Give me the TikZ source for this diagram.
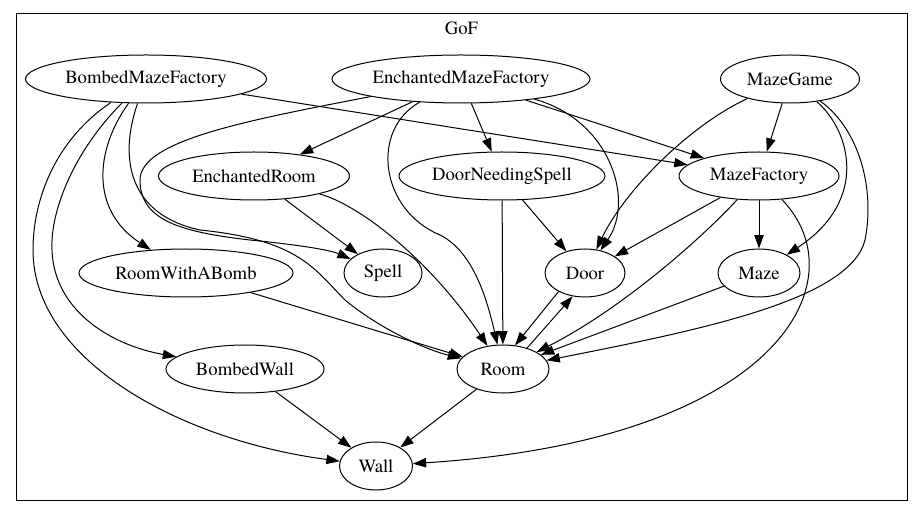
\documentclass[tikz,border=0pt]{standalone}
\usepackage{fontspec}
\newfontfamily\gvfont{texgyretermes-regular.otf}
\usetikzlibrary{arrows.meta,shapes.geometric}
\begin{document}
\begin{tikzpicture}[x=0.75pt,y=-0.75pt,
  every node/.style={font=\gvfont\fontsize{14}{16}\selectfont},
  nd/.style={draw, ellipse, inner sep=0pt, line width=0.75pt, minimum height=36pt},
  arr/.style={draw, line width=0.75pt, -{Triangle[length=10pt,width=7pt]}},
  frame/.style={draw, line width=0.75pt}]
\useasboundingbox (0,0) rectangle (917,516);
\draw[frame] (16,14) rectangle (907,500);
\node (title) at (461.5,28) {GoF};
% nodes
\node[nd, minimum width=180.75pt] (bmf) at (146,79) {BombedMazeFactory};
\node[nd, minimum width=193.5pt] (emf) at (461,79) {EnchantedMazeFactory};
\node[nd, minimum width=104.25pt] (mg) at (790,79) {MazeGame};
\node[nd, minimum width=143.25pt] (er) at (254,176) {EnchantedRoom};
\node[nd, minimum width=154.5pt] (dns) at (502,176) {DoorNeedingSpell};
\node[nd, minimum width=120pt] (mf) at (759,176) {MazeFactory};
\node[nd, minimum width=160.5pt] (rwab) at (186,273) {RoomWithABomb};
\node[nd, minimum width=58.5pt] (spell) at (383,273) {Spell};
\node[nd, minimum width=60pt] (door) at (585,273) {Door};
\node[nd, minimum width=61.5pt] (maze) at (759,273) {Maze};
\node[nd, minimum width=118.5pt] (bw) at (245,369) {BombedWall};
\node[nd, minimum width=69pt] (room) at (503,369) {Room};
\node[nd, minimum width=54.75pt] (wall) at (376,466) {Wall};
% BombedMazeFactory
\draw[arr] (bmf) -- (mf);
\draw[arr] (bmf) .. controls (55,140) and (33,200) .. (33,250) .. controls (33,360) and (180,440) .. (wall);
\draw[arr] (bmf) .. controls (75,150) and (50,210) .. (52,250) .. controls (54,310) and (110,345) .. (bw);
\draw[arr] (bmf) .. controls (95,150) and (90,210) .. (rwab);
\draw[arr] (bmf) .. controls (118,160) and (130,215) .. (200,230) .. controls (300,240) and (315,270) .. (345,300) .. controls (375,325) and (420,348) .. (room);
% EnchantedMazeFactory
\draw[arr] (emf) -- (er);
\draw[arr] (emf) -- (dns);
\draw[arr] (emf) -- (mf);
\draw[arr] (emf) .. controls (610,120) and (635,200) .. (door);
\draw[arr] (emf) .. controls (370,130) and (380,210) .. (440,235) .. controls (470,250) and (485,290) .. (room);
\draw[arr] (emf) .. controls (250,120) and (140,140) .. (140,180) .. controls (140,220) and (180,232) .. (250,240) .. controls (300,245) and (330,250) .. (spell);
% EnchantedRoom
\draw[arr] (er) -- (spell);
\draw[arr] (er) .. controls (360,205) and (430,260) .. (room);
% DoorNeedingSpell
\draw[arr] (dns) -- (door);
\draw[arr] (dns) -- (room);
% MazeGame
\draw[arr] (mg) -- (mf);
\draw[arr] (mg) .. controls (690,125) and (625,190) .. (door);
\draw[arr] (mg) .. controls (850,130) and (870,200) .. (maze);
\draw[arr] (mg) .. controls (860,130) and (875,190) .. (865,240) .. controls (850,300) and (700,330) .. (room);
% MazeFactory
\draw[arr] (mf) -- (door);
\draw[arr] (mf) -- (maze);
\draw[arr] (mf) .. controls (700,240) and (620,310) .. (room);
\draw[arr] (mf) .. controls (860,280) and (780,440) .. (wall);
% others
\draw[arr] (door.215) -- (room.63);
\draw[arr] (room.41) -- (door.242);
\draw[arr] (maze) -- (room);
\draw[arr] (rwab) -- (room);
\draw[arr] (bw) -- (wall);
\draw[arr] (room) -- (wall);
\end{tikzpicture}
\end{document}
